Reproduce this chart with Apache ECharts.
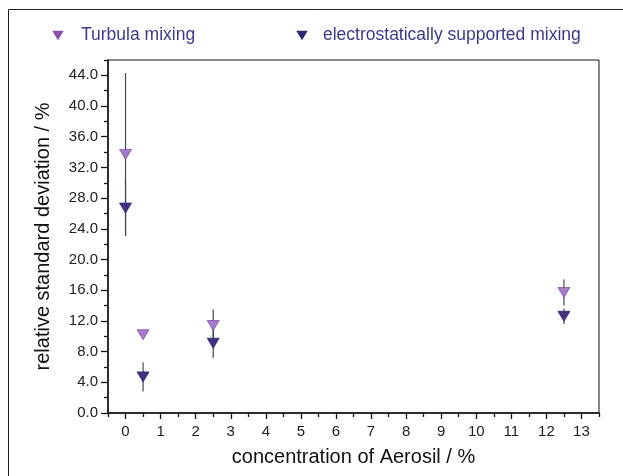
<!DOCTYPE html>
<html><head><meta charset="utf-8">
<script src="https://cdn.jsdelivr.net/npm/echarts@6/dist/echarts.min.js"></script>
<style>html,body{margin:0;padding:0;background:#fff}#c{width:623px;height:476px}</style>
</head><body><div id="c"></div>
<script>
var xValues = [0, 0.5, 2.5, 12.5];
var turbula = [33.7, 10.2, 11.4, 15.7];
var turbulaErr = [10.6, 0, 2.1, 1.7];
var electro = [26.7, 4.7, 9.1, 12.6];
var electroErr = [3.6, 1.9, 1.9, 1.0];
var xMajorTicks = [0,1,2,3,4,5,6,7,8,9,10,11,12,13];
var xMinorTicks = [-0.5,0.5,1.5,2.5,3.5,4.5,5.5,6.5,7.5,8.5,9.5,10.5,11.5,12.5,13.5];
var yMajorTicks = [0,4,8,12,16,20,24,28,32,36,40,44];
var yMinorTicks = [2,6,10,14,18,22,26,30,34,38,42,46];
var seriesNames = ['Turbula mixing', 'electrostatically supported mixing'];

var font = '"Liberation Sans", Arial, sans-serif';
var tri = 'path://M0,0L12,0L6,10Z';
function pts(v){ return xValues.map(function(x,i){ return [x, v[i]]; }); }
function errData(v, e){ return xValues.map(function(x,i){ return [x, v[i]-e[i], v[i]+e[i]]; }); }
function errSeries(v, e){
  return {
    type:'custom', xAxisIndex:0, yAxisIndex:0, z:1, silent:true,
    data: errData(v,e),
    renderItem:function(params, api){
      var lo = api.coord([api.value(0), api.value(1)]);
      var hi = api.coord([api.value(0), api.value(2)]);
      return {type:'line', shape:{x1:lo[0],y1:lo[1],x2:hi[0],y2:hi[1]}, style:{stroke:'#3e4c4a', lineWidth:1.2}};
    }
  };
}
function legendText(pad){ return {fontSize:17.5, color:'#3b3b8a', fontFamily:font, padding:[0,0,0,pad]}; }
var chart = echarts.init(document.getElementById('c'));
chart.setOption({
  backgroundColor:'#ffffff',
  animation:false,
  textStyle:{fontFamily:font},
  graphic:[{type:'rect', shape:{x:8.5,y:9.5,width:800,height:800}, style:{fill:null, stroke:'#222', lineWidth:1}, z:0}],
  legend:[
    {data:[{name:seriesNames[0], itemStyle:{color:'#8a58b0'}}], left:48, top:21, itemWidth:8, itemHeight:7,
     textStyle:legendText(14)},
    {data:[{name:seriesNames[1], itemStyle:{color:'#2e2a6e'}}], left:292, top:21, itemWidth:8, itemHeight:7,
     textStyle:legendText(12)}
  ],
  grid:{left:108, right:24, top:60, bottom:63, show:true, borderColor:'#111', borderWidth:1, backgroundColor:'transparent'},
  xAxis:[
    {type:'value', min:-0.5, max:13.5, position:'bottom',
     name:'concentration of Aerosil / %', nameLocation:'middle', nameGap:34,
     nameTextStyle:{fontSize:20, color:'#111', fontFamily:font},
     axisLine:{show:true, onZero:false, lineStyle:{color:'#111', width:1.5}},
     axisTick:{show:true, length:6, customValues:xMajorTicks, lineStyle:{color:'#111', width:1.3}},
     axisLabel:{show:true, customValues:xMajorTicks, fontSize:15, color:'#222', margin:11},
     splitLine:{show:false}},
    {type:'value', min:-0.5, max:13.5, position:'bottom',
     axisLine:{show:false, onZero:false},
     axisTick:{show:true, length:4, customValues:xMinorTicks, lineStyle:{color:'#111', width:1.3}},
     axisLabel:{show:false}, splitLine:{show:false}}
  ],
  yAxis:[
    {type:'value', min:0, max:46, position:'left',
     name:'relative standard deviation / %', nameLocation:'middle', nameGap:55, nameRotate:90,
     nameTextStyle:{fontSize:20, color:'#111', fontFamily:font},
     axisLine:{show:true, onZero:false, lineStyle:{color:'#111', width:1.5}},
     axisTick:{show:true, length:7, customValues:yMajorTicks, lineStyle:{color:'#111', width:1.3}},
     axisLabel:{show:true, customValues:yMajorTicks, fontSize:15, color:'#222', margin:10,
       formatter:function(v){return v.toFixed(1);}},
     splitLine:{show:false}},
    {type:'value', min:0, max:46, position:'left',
     axisLine:{show:false, onZero:false},
     axisTick:{show:true, length:4, customValues:yMinorTicks, lineStyle:{color:'#111', width:1.3}},
     axisLabel:{show:false}, splitLine:{show:false}}
  ],
  series:[
    errSeries(turbula, turbulaErr),
    errSeries(electro, electroErr),
    {name:seriesNames[0], type:'scatter', xAxisIndex:0, yAxisIndex:0, z:3, data:pts(turbula),
     symbol:tri, symbolSize:[12,10], itemStyle:{color:'#a47acb', borderColor:'#8a4fa8', borderWidth:0.8, opacity:1}},
    {name:seriesNames[1], type:'scatter', xAxisIndex:0, yAxisIndex:0, z:3, data:pts(electro),
     symbol:tri, symbolSize:[12,10], itemStyle:{color:'#44307e', borderColor:'#2e2a70', borderWidth:0.8, opacity:1}}
  ]
});
</script></body></html>
